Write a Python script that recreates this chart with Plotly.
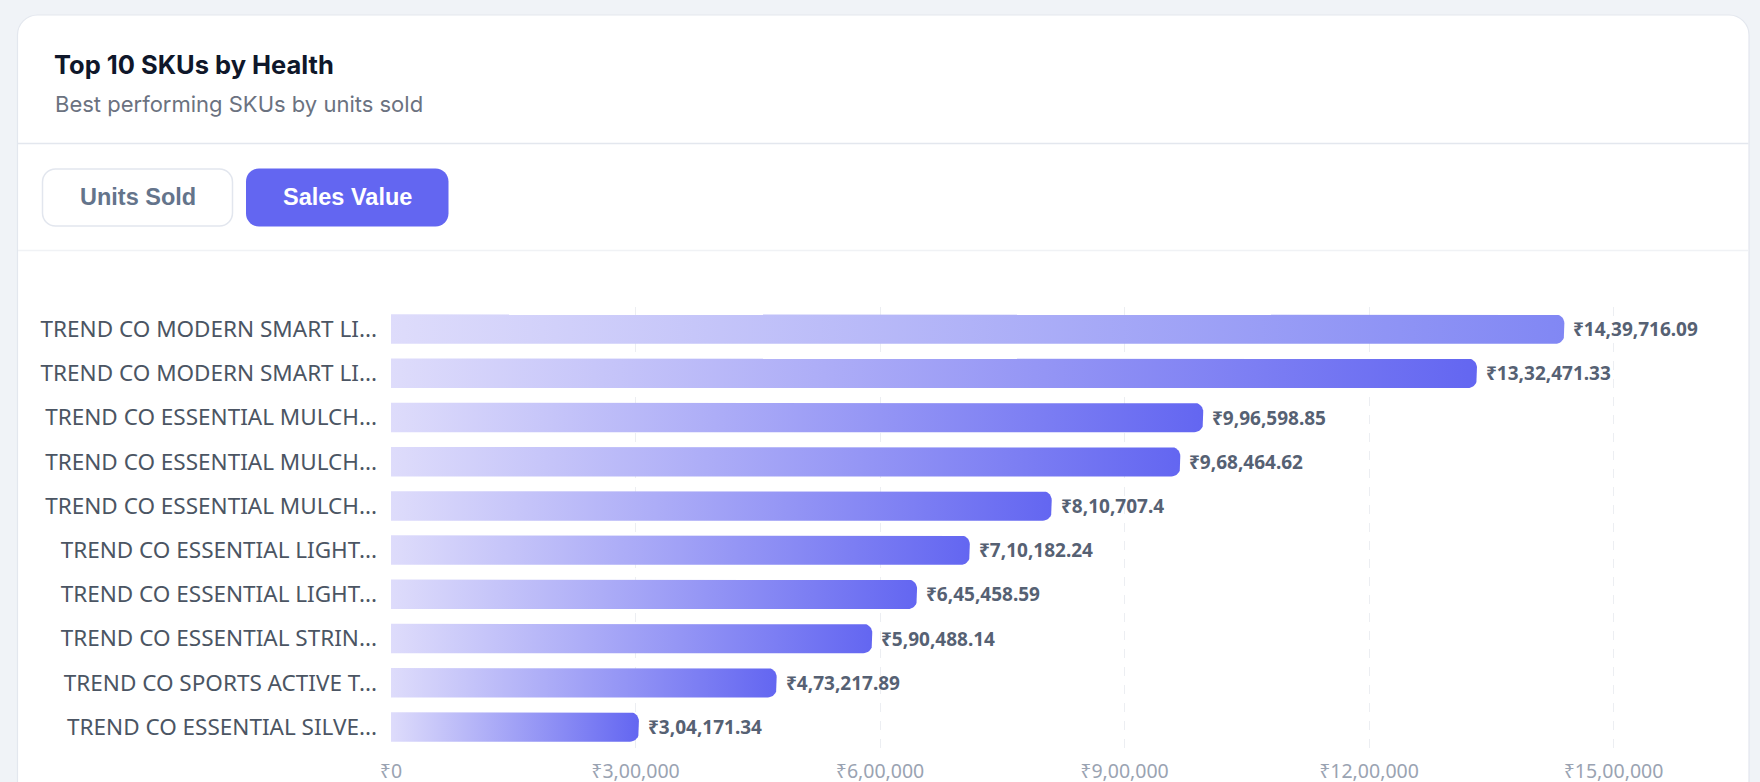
import math
import plotly.graph_objects as go

# ---------------- data ----------------
sku_labels = [
    "TREND CO MODERN SMART LI...",
    "TREND CO MODERN SMART LI...",
    "TREND CO ESSENTIAL MULCH...",
    "TREND CO ESSENTIAL MULCH...",
    "TREND CO ESSENTIAL MULCH...",
    "TREND CO ESSENTIAL LIGHT...",
    "TREND CO ESSENTIAL LIGHT...",
    "TREND CO ESSENTIAL STRIN...",
    "TREND CO SPORTS ACTIVE T...",
    "TREND CO ESSENTIAL SILVE...",
]
sales_value = [1439716.09, 1332471.33, 996598.85, 968464.62, 810707.4,
               710182.24, 645458.59, 590488.14, 473217.89, 304171.34]
x_tick_vals = [0, 300000, 600000, 900000, 1200000, 1500000]
x_tick_text = ["₹0", "₹3,00,000", "₹6,00,000", "₹9,00,000", "₹12,00,000", "₹15,00,000"]
title_text = "Top 10 SKUs by Health"
subtitle_text = "Best performing SKUs by units sold"
button_labels = ["Units Sold", "Sales Value"]

# ---------------- layout constants ----------------
W, H = 1760, 782
L, R, T, B = 391, 65, 307, 33
PW, PH = W - L - R, H - T - B
X_MAX = 1600000
BAR_FRAC = 0.667
CORNER_PX = 9


def inr(v):
    s = f"{v:.2f}".rstrip("0").rstrip(".")
    if "." in s:
        ip, dp = s.split(".")
    else:
        ip, dp = s, ""
    if len(ip) > 3:
        head, tail = ip[:-3], ip[-3:]
        groups = []
        while len(head) > 2:
            groups.insert(0, head[-2:])
            head = head[:-2]
        if head:
            groups.insert(0, head)
        ip = ",".join(groups + [tail])
    return "₹" + ip + ("." + dp if dp else "")


def pxx(x):
    return (x - L) / PW


def pxy(y):
    return (H - B - y) / PH


def rrect_path(x0, y0, x1, y1, r):
    k = 0.5523 * r
    pts = [
        f"M{pxx(x0 + r)},{pxy(y0)}",
        f"L{pxx(x1 - r)},{pxy(y0)}",
        f"C{pxx(x1 - r + k)},{pxy(y0)} {pxx(x1)},{pxy(y0 + r - k)} {pxx(x1)},{pxy(y0 + r)}",
        f"L{pxx(x1)},{pxy(y1 - r)}",
        f"C{pxx(x1)},{pxy(y1 - r + k)} {pxx(x1 - r + k)},{pxy(y1)} {pxx(x1 - r)},{pxy(y1)}",
        f"L{pxx(x0 + r)},{pxy(y1)}",
        f"C{pxx(x0 + r - k)},{pxy(y1)} {pxx(x0)},{pxy(y1 - r + k)} {pxx(x0)},{pxy(y1 - r)}",
        f"L{pxx(x0)},{pxy(y0 + r)}",
        f"C{pxx(x0)},{pxy(y0 + r - k)} {pxx(x0 + r - k)},{pxy(y0)} {pxx(x0 + r)},{pxy(y0)}",
        "Z",
    ]
    return " ".join(pts)


fig = go.Figure()

# bars as gradient-filled polygons with rounded right ends
ux = X_MAX / PW
uy = 1.0 / (PH / len(sales_value))
rx, ry = CORNER_PX * ux, CORNER_PX * uy
for i, v in enumerate(sales_value):
    y0, y1 = i - BAR_FRAC / 2, i + BAR_FRAC / 2
    xs, ys = [0, v - rx], [y0, y0]
    for a in range(0, 91, 10):
        t = math.radians(a)
        xs.append(v - rx + rx * math.sin(t))
        ys.append(y0 + ry - ry * math.cos(t))
    for a in range(0, 91, 10):
        t = math.radians(a)
        xs.append(v - rx + rx * math.cos(t))
        ys.append(y1 - ry + ry * math.sin(t))
    xs += [0, 0]
    ys += [y1, y0]
    end_col = "#8187f4" if i == 0 else "#6366f1"
    fig.add_trace(go.Scatter(
        x=xs, y=ys, mode="lines", fill="toself",
        line=dict(width=0, color="rgba(0,0,0,0)"),
        fillgradient=dict(type="horizontal", start=0, stop=v,
                          colorscale=[[0, "#dedcfb"], [1, end_col]]),
        hoverinfo="skip", showlegend=False,
    ))

# value labels
for i, v in enumerate(sales_value):
    fig.add_annotation(x=v, y=i, xref="x", yref="y", text=inr(v), showarrow=False,
                       xanchor="left", yanchor="middle", xshift=7,
                       font=dict(family="Noto Sans", size=19, color="#566173", weight=700))

shapes = []
shapes.append(dict(type="path", xref="paper", yref="paper", layer="below",
                   path=rrect_path(17.5, 15, 1749, 830, 20),
                   fillcolor="#ffffff", line=dict(color="#e3e7ee", width=1.2)))
shapes.append(dict(type="line", xref="paper", yref="paper", layer="below",
                   x0=pxx(18), x1=pxx(1748.5), y0=pxy(143.5), y1=pxy(143.5),
                   line=dict(color="#e3e7ee", width=1.5)))
shapes.append(dict(type="line", xref="paper", yref="paper", layer="below",
                   x0=pxx(18), x1=pxx(1748.5), y0=pxy(250.5), y1=pxy(250.5),
                   line=dict(color="#f0f2f5", width=1.5)))
shapes.append(dict(type="path", xref="paper", yref="paper", layer="below",
                   path=rrect_path(42.5, 169, 232.5, 226, 13),
                   fillcolor="#ffffff", line=dict(color="#e2e6ee", width=1.5)))
shapes.append(dict(type="path", xref="paper", yref="paper", layer="below",
                   path=rrect_path(246, 168.5, 448.5, 226.5, 13),
                   fillcolor="#6366f1", line=dict(color="#6366f1", width=0)))

annotations = [
    dict(text=title_text, x=pxx(52), y=pxy(65), xref="paper", yref="paper",
         xanchor="left", yanchor="middle", showarrow=False,
         font=dict(family="Inter", size=25.5, color="#0f172a", weight=700)),
    dict(text=subtitle_text, x=pxx(53), y=pxy(104), xref="paper", yref="paper",
         xanchor="left", yanchor="middle", showarrow=False,
         font=dict(family="Inter", size=22, color="#6b7280")),
    dict(text=button_labels[0], x=pxx(137.5), y=pxy(197), xref="paper", yref="paper",
         xanchor="center", yanchor="middle", showarrow=False,
         font=dict(family="Liberation Sans", size=23.5, color="#64748b", weight=700)),
    dict(text=button_labels[1], x=pxx(347), y=pxy(197), xref="paper", yref="paper",
         xanchor="center", yanchor="middle", showarrow=False,
         font=dict(family="Liberation Sans", size=23.5, color="#ffffff", weight=700)),
]
for a in annotations:
    fig.add_annotation(**a)

fig.update_layout(
    width=W, height=H,
    margin=dict(l=L, r=R, t=T, b=B, pad=0, autoexpand=False),
    paper_bgcolor="#f0f3f7", plot_bgcolor="rgba(0,0,0,0)",
    shapes=shapes, showlegend=False, hovermode=False,
    xaxis=dict(range=[0, X_MAX], tickvals=x_tick_vals, ticktext=x_tick_text,
               showgrid=True, gridcolor="#eceef2", griddash="dash", gridwidth=1,
               zeroline=False, showline=False, ticks="", ticklabelstandoff=8,
               automargin=False,
               tickfont=dict(family="Noto Sans", size=19.5, color="#9aa3b2"),
               fixedrange=True),
    yaxis=dict(range=[len(sales_value) - 0.5, -0.5],
               tickvals=list(range(len(sku_labels))), ticktext=sku_labels,
               showgrid=False, zeroline=False, showline=False, ticks="",
               ticklabelstandoff=13, automargin=False,
               tickfont=dict(family="Noto Sans", size=22.5, color="#4b5563"),
               fixedrange=True),
)

fig.write_html("out.html", config=dict(displayModeBar=False))
